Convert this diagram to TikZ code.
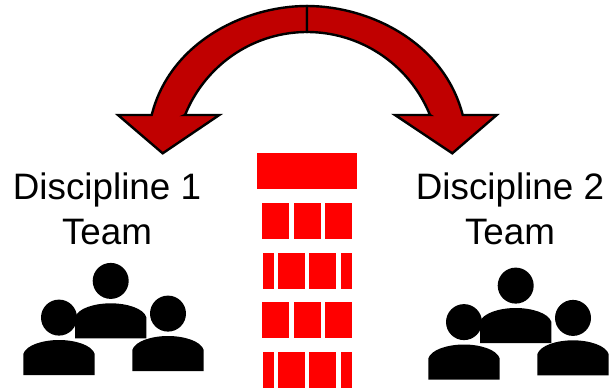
\documentclass[tikz,border=0pt]{standalone}
\usepackage{fontspec}
\setmainfont{Liberation Sans}
\definecolor{arrowred}{RGB}{192,0,0}
\definecolor{brickred}{RGB}{255,0,0}
\tikzset{
  bentarrow/.style={fill=arrowred,draw=black,line width=2.4pt,line join=miter},
  brick/.style={fill=brickred,draw=none},
  lbl/.style={font=\fontsize{36.8}{36.8}\selectfont,inner sep=0pt,anchor=base},
  person/.pic={
    \fill[black] (0,-22.4) circle[radius=18];
    \fill[black] (-35.7,35) -- (-35.7,14) .. controls (-33,5) and (-16,0) .. (0,0)
       .. controls (16,0) and (33,5) .. (35.7,14) -- (35.7,35) -- cycle;
  }
}
\newcommand{\brickbox}[4]{\fill[brick] (#1,#2) rectangle (#3,#4);}
\begin{document}
\begin{tikzpicture}[x=1pt,y=-1pt]
\useasboundingbox (0,0) rectangle (609,391);
% bricks
\brickbox{257}{153}{357}{189}
\foreach \yy in {203,302}{
  \brickbox{262}{\yy}{289}{\yy+36}
  \brickbox{294}{\yy}{321}{\yy+36}
  \brickbox{325}{\yy}{352}{\yy+36}
}
\foreach \yy in {253,352}{
  \brickbox{263}{\yy}{274}{\yy+36}
  \brickbox{278}{\yy}{305}{\yy+36}
  \brickbox{309}{\yy}{336}{\yy+36}
  \brickbox{341}{\yy}{352}{\yy+36}
}
% arrows
\draw[bentarrow] (307,6) .. controls (245,6) and (170,42) .. (151.7,115)
  -- (118,115) -- (162.7,153.3) -- (219.3,115) -- (185,115)
  -- plot[domain=22.1:90,samples=50] ({307-131.6*cos(\x)},{165-133*sin(\x)}) -- cycle;
\draw[bentarrow] (307,6) .. controls (369,6) and (444,42) .. (462.7,115)
  -- (496.7,115) -- (452.3,153.3) -- (395,115) -- (430,115)
  -- plot[domain=22.1:90,samples=50] ({307+132.7*cos(\x)},{165-133*sin(\x)}) -- cycle;
% labels
\node[lbl] (d1) at (107,199) {Discipline 1};
\node[lbl] (t1) at (107,244) {Team};
\node[lbl] (d2) at (510,199) {Discipline 2};
\node[lbl] (t2) at (510,244) {Team};
% people
\pic at (110.7,303.3) {person};
\pic at (59,340) {person};
\pic at (168,336) {person};
\pic at (515.7,308) {person};
\pic at (464,344.5) {person};
\pic at (573,340.3) {person};
\end{tikzpicture}
\end{document}
